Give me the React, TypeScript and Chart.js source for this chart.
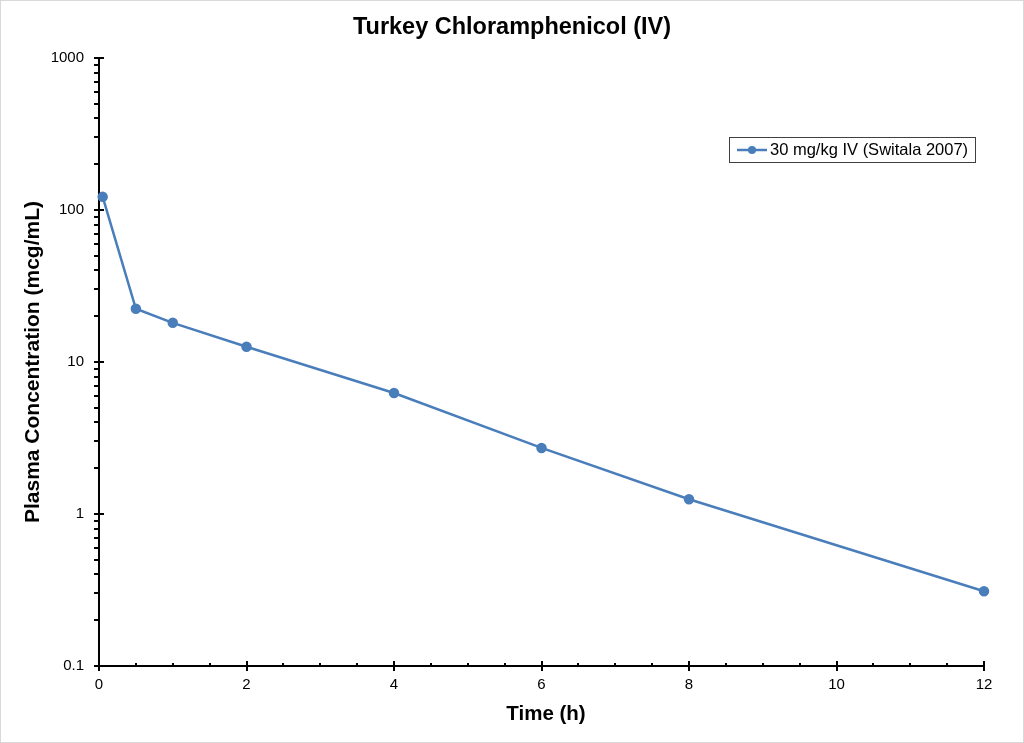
import React, { useEffect, useRef } from "react";
import { Chart, registerables } from "chart.js";

Chart.register(...registerables);

const chartTitle = "Turkey Chloramphenicol (IV)";
const xTitle = "Time (h)";
const yTitle = "Plasma Concentration (mcg/mL)";
const seriesLabel = "30 mg/kg IV (Switala 2007)";
const timeHours = [0.05, 0.5, 1, 2, 4, 6, 8, 12];
const concentration = [122, 22.4, 18.1, 12.6, 6.25, 2.72, 1.25, 0.31];
const xTicks = [0, 2, 4, 6, 8, 10, 12];
const yMajor = [0.1, 1, 10, 100, 1000];

const FONT = "'Liberation Sans', Arial, sans-serif";
const BLUE = "#4a7ebb";

const decorPlugin = {
  id: "decor",
  beforeDraw(chart: any) {
    const { ctx, width, height } = chart;
    ctx.save();
    ctx.fillStyle = "#ffffff";
    ctx.fillRect(0, 0, width, height);
    ctx.strokeStyle = "#d9d9d9";
    ctx.lineWidth = 1;
    ctx.strokeRect(0.5, 0.5, width - 1, height - 1);
    ctx.restore();
  },
  beforeDatasetsDraw(chart: any) {
    const { ctx, chartArea } = chart;
    const xs = chart.scales.x;
    const ys = chart.scales.y;
    const { left, right, top, bottom } = chartArea;
    ctx.save();
    ctx.strokeStyle = "#000";
    ctx.lineWidth = 2;
    ctx.beginPath();
    ctx.moveTo(left, top);
    ctx.lineTo(left, bottom);
    ctx.moveTo(left - 1, bottom);
    ctx.lineTo(right + 1, bottom);
    ctx.stroke();
    ctx.beginPath();
    for (let k = 0; k < yMajor.length; k++) {
      const v = yMajor[k];
      const py = Math.round(ys.getPixelForValue(v));
      ctx.moveTo(left - 5, py);
      ctx.lineTo(left + 5, py);
      if (k < yMajor.length - 1) {
        for (let m = 2; m <= 9; m++) {
          const my = Math.round(ys.getPixelForValue(v * m));
          ctx.moveTo(left - 5, my);
          ctx.lineTo(left, my);
        }
      }
    }
    for (let i = 0; i < xTicks.length; i++) {
      const v = xTicks[i];
      const px = Math.round(xs.getPixelForValue(v));
      ctx.moveTo(px, bottom - 5);
      ctx.lineTo(px, bottom + 5);
      if (i < xTicks.length - 1) {
        for (let m = 1; m <= 3; m++) {
          const mx = Math.round(xs.getPixelForValue(v + m * 0.5));
          ctx.moveTo(mx, bottom - 3);
          ctx.lineTo(mx, bottom);
        }
      }
    }
    ctx.stroke();
    ctx.restore();
  },
  afterDraw(chart: any) {
    const { ctx, chartArea } = chart;
    const { top, bottom } = chartArea;
    ctx.save();
    ctx.fillStyle = "#000";
    ctx.textAlign = "center";
    ctx.textBaseline = "middle";
    ctx.font = `bold 23.5px ${FONT}`;
    ctx.fillText(chartTitle, 512, 28);
    ctx.font = `bold 20.5px ${FONT}`;
    ctx.fillText(xTitle, 546, 714);
    ctx.save();
    ctx.font = `bold 21px ${FONT}`;
    ctx.translate(33, (top + bottom) / 2);
    ctx.rotate(-Math.PI / 2);
    ctx.fillText(yTitle, 0, 0);
    ctx.restore();

    const lx = 729, ly = 137, lw = 246, lh = 25;
    ctx.strokeStyle = "#404040";
    ctx.lineWidth = 1;
    ctx.strokeRect(lx + 0.5, ly + 0.5, lw, lh);
    const cy = ly + lh / 2 + 0.5;
    ctx.strokeStyle = BLUE;
    ctx.lineWidth = 2.5;
    ctx.beginPath();
    ctx.moveTo(lx + 8, cy);
    ctx.lineTo(lx + 38, cy);
    ctx.stroke();
    ctx.fillStyle = BLUE;
    ctx.beginPath();
    ctx.arc(lx + 23, cy, 4, 0, Math.PI * 2);
    ctx.fill();
    ctx.fillStyle = "#000";
    ctx.textAlign = "left";
    ctx.font = `16.5px ${FONT}`;
    ctx.fillText(chart.data.datasets[0].label, lx + 41, cy + 0.5);
    ctx.restore();
  },
};

export default function App() {
  const ref = useRef<HTMLCanvasElement | null>(null);
  useEffect(() => {
    if (!ref.current) return;
    const chart = new Chart(ref.current, {
      type: "line",
      data: {
        datasets: [
          {
            label: seriesLabel,
            data: timeHours.map((t, i) => ({ x: t, y: concentration[i] })),
            borderColor: BLUE,
            backgroundColor: BLUE,
            borderWidth: 2.5,
            pointRadius: 4,
            pointBackgroundColor: BLUE,
            pointBorderColor: BLUE,
            tension: 0,
            clip: false,
          } as any,
        ],
      },
      options: {
        animation: false,
        responsive: false,
        maintainAspectRatio: false,
        layout: { padding: { left: 0, top: 58, right: 40, bottom: 0 } },
        plugins: { legend: { display: false }, title: { display: false }, tooltip: { enabled: false } },
        scales: {
          x: {
            type: "linear",
            min: 0,
            max: 12,
            afterBuildTicks: (s: any) => {
              s.ticks = xTicks.map((v) => ({ value: v }));
            },
            ticks: { font: { size: 15, family: FONT }, color: "#000", padding: 10, maxRotation: 0, autoSkip: false },
            grid: { display: false, drawTicks: false },
            border: { display: false },
            afterFit: (s: any) => {
              s.height = 77;
            },
          },
          y: {
            type: "logarithmic",
            min: 0.1,
            max: 1000,
            afterBuildTicks: (s: any) => {
              s.ticks = yMajor.map((v) => ({ value: v, major: true }));
            },
            ticks: {
              font: { size: 15, family: FONT },
              color: "#000",
              padding: 15,
              autoSkip: false,
              callback: (v: any) => String(v),
            },
            grid: { display: false, drawTicks: false },
            border: { display: false },
            afterFit: (s: any) => {
              s.width = 99;
            },
          },
        },
      },
      plugins: [decorPlugin],
    });
    return () => chart.destroy();
  }, []);
  return (
    <div style={{ position: "fixed", left: 0, top: 0, width: 1024, height: 743 }}>
      <canvas ref={ref} width={1024} height={743} style={{ display: "block" }} />
    </div>
  );
}
